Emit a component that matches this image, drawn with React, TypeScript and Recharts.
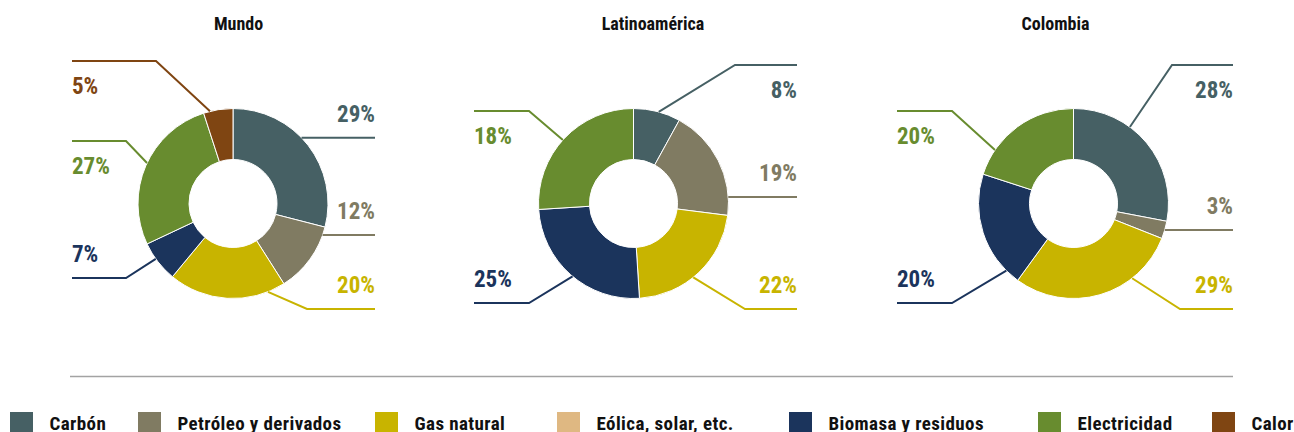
import React from 'react';
import { PieChart, Pie, Cell } from 'recharts';

// ---- data ----
const categories = [
  'Carbón',
  'Petróleo y derivados',
  'Gas natural',
  'Eólica, solar, etc.',
  'Biomasa y residuos',
  'Electricidad',
  'Calor',
];
const regionTitles = ['Mundo', 'Latinoamérica', 'Colombia'];
const mundoValues = [29, 12, 20, 0, 7, 27, 5];
const latinoValues = [8, 19, 22, 0, 25, 26, 0];
const colombiaValues = [28, 3, 29, 0, 20, 20, 0];
const mundoLabels = ['29%', '12%', '20%', '', '7%', '27%', '5%'];
const latinoLabels = ['8%', '19%', '22%', '', '25%', '18%', ''];
const colombiaLabels = ['28%', '3%', '29%', '', '20%', '20%', ''];

// ---- style ----
const colors = ['#466064', '#807b62', '#c8b400', '#dfb882', '#1b345c', '#688c2f', '#7f4512'];
const FONT = "'Roboto Condensed', 'Roboto', sans-serif";
const W = 1294;
const H = 432;
const CY = 203.5;
const R_OUT = 95;
const R_IN = 44;

type LabelLayout = { a: number; e?: [number, number]; side: 'L' | 'R'; pos: 'above' | 'below' };
type ChartLayout = { cx: number; titleX: number; left: number; right: number; labels: Record<number, LabelLayout> };

const layouts: ChartLayout[] = [
  {
    cx: 233,
    titleX: 238.5,
    left: -161,
    right: 142,
    labels: {
      0: { a: 46.2, side: 'R', pos: 'above' },
      1: { a: 109.4, side: 'R', pos: 'above' },
      2: { a: 158.4, e: [74, 105.5], side: 'R', pos: 'above' },
      4: { a: 234.4, e: [-107, 74.5], side: 'L', pos: 'above' },
      5: { a: 295.2, e: [-107, -62.5], side: 'L', pos: 'below' },
      6: { a: 346, e: [-77, -142.5], side: 'L', pos: 'below' },
    },
  },
  {
    cx: 633.5,
    titleX: 653,
    left: -159.5,
    right: 163.5,
    labels: {
      0: { a: 15.4, e: [101.5, -138.5], side: 'R', pos: 'below' },
      1: { a: 86.1, side: 'R', pos: 'above' },
      2: { a: 141, e: [111.5, 105.5], side: 'R', pos: 'above' },
      4: { a: 219.9, e: [-104.5, 99.5], side: 'L', pos: 'above' },
      5: { a: 312, e: [-104.5, -92.5], side: 'L', pos: 'below' },
    },
  },
  {
    cx: 1073.5,
    titleX: 1055.5,
    left: -176.5,
    right: 159.5,
    labels: {
      0: { a: 36.4, e: [98.5, -138.5], side: 'R', pos: 'below' },
      1: { a: 106.2, side: 'R', pos: 'above' },
      2: { a: 141.9, e: [106.5, 105.5], side: 'R', pos: 'above' },
      4: { a: 225, e: [-121.5, 99.5], side: 'L', pos: 'above' },
      5: { a: 304.3, e: [-121.5, -92.5], side: 'L', pos: 'below' },
    },
  },
];

const legendX = [10, 138, 375, 557, 789, 1038, 1212];

const seriesValues = [mundoValues, latinoValues, colombiaValues];
const seriesLabels = [mundoLabels, latinoLabels, colombiaLabels];

const buildData = (values: number[], labels: string[]) =>
  categories
    .map((name, idx) => ({ name, idx, value: values[idx], label: labels[idx] }))
    .filter((d) => d.value > 0);

const makeLabel = (layout: ChartLayout) => (props: any) => {
  const { cx, cy, outerRadius } = props;
  const entry = props.payload && props.payload.idx !== undefined ? props.payload : props;
  const idx: number = entry.idx;
  const l = layout.labels[idx];
  if (!l) return null;
  const color = colors[idx];
  const rad = (l.a * Math.PI) / 180;
  const ax = cx + outerRadius * Math.sin(rad);
  const ay = cy - outerRadius * Math.cos(rad);
  const ex = l.e ? cx + l.e[0] : ax;
  const ey = l.e ? cy + l.e[1] : ay;
  const endX = cx + (l.side === 'R' ? layout.right : layout.left);
  const ty = l.pos === 'above' ? ey - 16 : ey + 33;
  return (
    <g key={`lbl-${idx}`}>
      <polyline points={`${ax},${ay} ${ex},${ey} ${endX},${ey}`} fill="none" stroke={color} strokeWidth={2} />
      <text
        x={endX}
        y={ty}
        textAnchor={l.side === 'R' ? 'end' : 'start'}
        fill={color}
        style={{ fontFamily: FONT, fontStretch: 'condensed', fontWeight: 700, fontSize: 23 }}
      >
        {entry.label}
      </text>
    </g>
  );
};

export default function App() {
  return (
    <div style={{ position: 'absolute', left: 0, top: 0, width: W, height: H, background: '#fff' }}>
      <div style={{ position: 'absolute', left: 0, top: 0 }}>
        <PieChart width={W} height={H} margin={{ top: 0, right: 0, bottom: 0, left: 0 }}>
          {layouts.map((layout, i) => {
            const data = buildData(seriesValues[i], seriesLabels[i]);
            return (
              <Pie
                key={regionTitles[i]}
                data={data}
                dataKey="value"
                nameKey="name"
                cx={layout.cx}
                cy={CY}
                innerRadius={R_IN}
                outerRadius={R_OUT}
                startAngle={90}
                endAngle={-270}
                stroke="#ffffff"
                strokeWidth={1}
                labelLine={false}
                label={makeLabel(layout)}
                isAnimationActive={false}
              >
                {data.map((d) => (
                  <Cell key={d.name} fill={colors[d.idx]} />
                ))}
              </Pie>
            );
          })}
        </PieChart>
      </div>
      <svg
        width={W}
        height={H}
        style={{ position: 'absolute', left: 0, top: 0, pointerEvents: 'none' }}
      >
        {layouts.map((layout, i) => (
          <text
            key={regionTitles[i]}
            x={layout.titleX}
            y={30}
            textAnchor="middle"
            fill="#111111"
            style={{ fontFamily: FONT, fontStretch: 'condensed', fontWeight: 700, fontSize: 18 }}
          >
            {regionTitles[i]}
          </text>
        ))}
        <line x1={70} y1={376.5} x2={1233} y2={376.5} stroke="#a3a3a3" strokeWidth={1.6} />
        {categories.map((c, i) => (
          <g key={c}>
            <rect x={legendX[i]} y={412} width={23} height={23} fill={colors[i]} />
            <text
              x={legendX[i] + 39.5}
              y={429.5}
              fill="#111111"
              style={{ fontFamily: FONT, fontStretch: 'condensed', fontWeight: 700, fontSize: 19, letterSpacing: 0.4 }}
            >
              {c}
            </text>
          </g>
        ))}
      </svg>
    </div>
  );
}
